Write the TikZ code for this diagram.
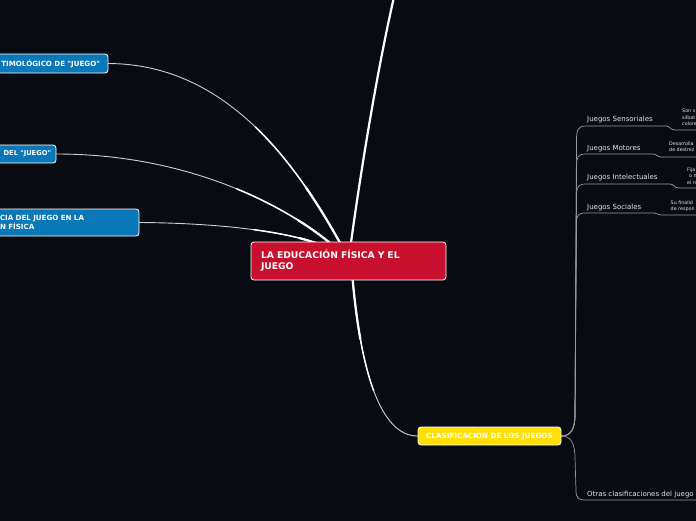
\documentclass[tikz,border=0pt]{standalone}
\usepackage{fontspec}
\setmainfont{DejaVu Sans}
\usetikzlibrary{calc}
\definecolor{bg}{HTML}{080B12}
\definecolor{mainred}{HTML}{C8102E}
\definecolor{topblue}{HTML}{0A77B8}
\definecolor{clsyellow}{HTML}{FFE000}
\definecolor{thinline}{HTML}{CFCFCF}
\definecolor{subline}{HTML}{9A9A9A}
\definecolor{labtext}{HTML}{E6E6E6}
\pgfdeclarelayer{background}
\pgfsetlayers{background,main}
% tapered connector: #1 start (hub end), #2 #3 controls, #4 far end
\newcommand\taperline[4]{%
  \draw[thinline, line width=0.9, line cap=round] (#1) .. controls (#2) and (#3) .. (#4);
  \coordinate (ta) at ($(#1)!.5!(#2)$);
  \coordinate (tb) at ($(#2)!.5!(#3)$);
  \coordinate (tc) at ($(#3)!.5!(#4)$);
  \coordinate (te) at ($(ta)!.5!(tb)$);
  \coordinate (tf) at ($(tb)!.5!(tc)$);
  \coordinate (tm) at ($(te)!.5!(tf)$);
  \draw[white, line width=1.5, line cap=round] (#1) .. controls (ta) and (te) .. (tm);
  \coordinate (ua) at ($(#1)!.5!(ta)$);
  \coordinate (ub) at ($(ta)!.5!(te)$);
  \coordinate (uc) at ($(te)!.5!(tm)$);
  \coordinate (ue) at ($(ua)!.5!(ub)$);
  \coordinate (uf) at ($(ub)!.5!(uc)$);
  \coordinate (um) at ($(ue)!.5!(uf)$);
  \draw[white, line width=2.2, line cap=round] (#1) .. controls (ua) and (ue) .. (um);
}
\tikzset{
  mainbox/.style={draw=white, line width=0.8, rounded corners=3, fill=mainred, text=white,
    font=\fontsize{9.2}{11}\selectfont\bfseries, align=left, inner xsep=10, inner ysep=0,
    text width=175, minimum width=195, minimum height=38},
  bluebox/.style={draw=white, line width=0.8, rounded corners=3, fill=topblue, text=white,
    font=\fontsize{7.1}{9.5}\selectfont\bfseries, inner ysep=0},
  yellowbox/.style={draw=white, line width=0.8, rounded corners=3, fill=clsyellow, text=white,
    font=\fontsize{7.2}{9}\selectfont\bfseries, minimum width=143, minimum height=18, inner sep=0},
  lab/.style={text=labtext, font=\fontsize{7}{8}\selectfont, inner sep=0},
  tinytext/.style={text=labtext, font=\fontsize{4.8}{6.5}\selectfont, inner sep=0, align=left},
  sub/.style={subline, line width=0.7, line cap=round},
}
\begin{document}
\begin{tikzpicture}[x=1pt,y=-1pt]
\useasboundingbox (0,0) rectangle (696,520);
\begin{pgfonlayer}{background}
\fill[bg] (-30,-10) rectangle (720,530);
\end{pgfonlayer}

% nodes
\node[mainbox] (c) at (348.5,261) {LA EDUCACIÓN FÍSICA Y EL\\JUEGO};
\node[bluebox, minimum width=128, minimum height=19, text width=112, align=right, inner xsep=8] (n1) at (44,63.5) {TIMOLÓGICO DE \textquotedbl JUEGO\textquotedbl};
\node[bluebox, font=\fontsize{6.7}{9}\selectfont\bfseries, minimum width=76, minimum height=18, text width=66, align=right, inner xsep=5] (n2) at (18,154) {DEL \textquotedbl JUEGO\textquotedbl};
\node[bluebox, minimum width=149, minimum height=27, text width=129, align=left, inner xsep=10] (n3) at (64.5,222.5) {CIA DEL JUEGO EN LA\\N FÍSICA};
\node[yellowbox] (yl) at (489.5,436) {CLASIFICACIÓN DE LOS JUEGOS};

\node[lab, anchor=base west] (s1) at (587,121) {Juegos Sensoriales};
\node[lab, anchor=base west] (s2) at (587,150.5) {Juegos Motores};
\node[lab, anchor=base west] (s3) at (587,179) {Juegos Intelectuales};
\node[lab, anchor=base west] (s4) at (587,209.5) {Juegos Sociales};
\node[lab, anchor=base west] (s5) at (587,496.5) {Otras clasificaciones del juego};

\node[tinytext, anchor=north west] (d1) at (682,109) {Son s\\silbat\\colore};
\node[tinytext, anchor=north west] (d2) at (669,141.5) {Desarrolla\\de destrez};
\node[tinytext, anchor=north west] (d3) at (687,167.5) {Fija\\\hspace{2pt}o n\\el n};
\node[tinytext, anchor=north west] (d4) at (670.5,200.5) {Su finalid\\de respon};

\coordinate (topend) at (394,-3);
\coordinate (edge1) at (700,130);
\coordinate (edge2) at (700,157);
\coordinate (edge3) at (700,188);
\coordinate (edge4) at (700,215);
\coordinate (edge5) at (700,500);

\begin{pgfonlayer}{background}
% main connectors
\draw[white, line width=2.2, line cap=round] (350,250) .. controls (358,190) and (375,80) .. (topend);
\taperline{344,250}{300,170}{230,64}{n1.east}
\taperline{338,250}{300,215}{200,154}{n2.east}
\taperline{332,250}{300,232}{220,223}{n3.east}
\taperline{352,272}{360,370}{380,436}{yl.west}

% sub connectors
\draw[sub] (yl.east) .. controls (570,436) and (575,430) .. (575,415) -- (576.5,140)
  .. controls (576.5,130) and (578,126) .. (586,126) -- (666,126)
  .. controls (670,126) and (670,130) .. (675,130) -- (edge1);
\draw[sub] (yl.east) .. controls (570,436) and (575,430) .. (575,415) -- (576.5,166)
  .. controls (576.5,157) and (578,154) .. (586,154) -- (653,154)
  .. controls (657,154) and (657,157) .. (661,157) -- (edge2);
\draw[sub] (yl.east) .. controls (570,436) and (575,430) .. (575,415) -- (576.5,196)
  .. controls (576.5,187) and (578,184) .. (586,184) -- (670,184)
  .. controls (674,184) and (674,188) .. (679,188) -- (edge3);
\draw[sub] (yl.east) .. controls (570,436) and (575,430) .. (575,415) -- (576.5,224)
  .. controls (576.5,215) and (578,213) .. (586,213) -- (654,213)
  .. controls (657,213) and (658,215) .. (662,215) -- (edge4);
\draw[sub] (yl.east) .. controls (570,436) and (575,442) .. (575,458) -- (576,490)
  .. controls (576,498) and (578,500) .. (586,500) -- (edge5);
\end{pgfonlayer}
\end{tikzpicture}
\end{document}
